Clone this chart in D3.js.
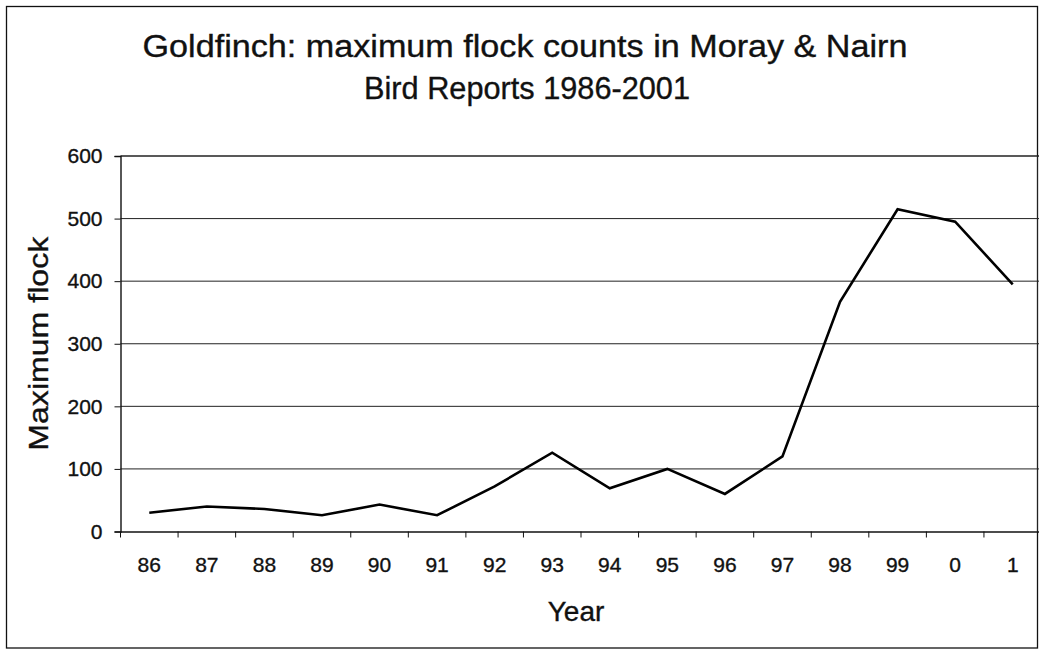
<!DOCTYPE html>
<html>
<head>
<meta charset="utf-8">
<script src="https://cdn.jsdelivr.net/npm/d3@7.9.0/dist/d3.min.js"></script>
<style>
  body { margin: 0; background: #fff; }
  svg { display: block; font-family: Arial, "Liberation Sans", sans-serif; }
  .lbl { fill: #111; stroke: #111; stroke-width: 0.35px; }
</style>
</head>
<body>
<svg id="chart" width="1039" height="650"></svg>
<script>
// Year labels as printed on the axis
const years = ["86", "87", "88", "89", "90", "91", "92", "93", "94", "95", "96", "97", "98", "99", "0", "1"];
// Maximum flock counts
const flock = [30, 40, 36, 26, 43, 26, 72, 126, 69, 100, 60, 120, 367, 515, 495, 395];
const yTicks = [0, 100, 200, 300, 400, 500, 600];

const svg = d3.select('#chart');
const plotLeft = 120.5, plotRight = 1041.5, plotTop = 156, plotBottom = 531.5;

// outer chart frame
svg.append('rect')
    .attr('x', 6.5).attr('y', 6.5)
    .attr('width', 1031).attr('height', 641.5)
    .attr('fill', 'none').attr('stroke', '#111').attr('stroke-width', 1.3);

let x = d3.scaleBand().domain(years).range([plotLeft, plotRight]);
let y = d3.scaleLinear().domain([0, 600]).range([plotBottom, plotTop]);

// gridlines
svg.append('g')
    .selectAll('line')
    .data(yTicks.filter(d => d > 0))
    .enter()
    .append('line')
    .attr('x1', plotLeft).attr('x2', plotRight)
    .attr('y1', d => y(d)).attr('y2', d => y(d))
    .attr('stroke', '#222')
    .attr('stroke-width', d => d === 600 ? 1.4 : 1);

// y axis
let yAxis = svg.append('g')
    .attr('transform', `translate(${plotLeft},0)`)
    .call(d3.axisLeft(y).tickValues(yTicks).tickSize(6).tickPadding(12));
yAxis.select('.domain').attr('stroke', '#111').attr('stroke-width', 1.4);
yAxis.selectAll('.tick line').attr('stroke', '#111');
yAxis.selectAll('text').attr('class', 'lbl').attr('font-size', 21)
    .attr('font-family', 'Arial, "Liberation Sans", sans-serif');

// x axis: ticks between categories, like Excel
let xAxis = svg.append('g')
    .attr('transform', `translate(0,${plotBottom})`)
    .call(d3.axisBottom(x).tickSize(0).tickPadding(26));
xAxis.select('.domain').attr('stroke', '#111').attr('stroke-width', 1.6);
xAxis.selectAll('text').attr('class', 'lbl').attr('font-size', 21)
    .attr('font-family', 'Arial, "Liberation Sans", sans-serif');
xAxis.selectAll('.sep')
    .data(years)
    .enter()
    .append('line')
    .attr('class', 'sep')
    .attr('x1', d => x(d)).attr('x2', d => x(d))
    .attr('y1', 0).attr('y2', 6)
    .attr('stroke', '#111');

// right plot edge
svg.append('line')
    .attr('x1', 1037.5).attr('x2', 1037.5)
    .attr('y1', plotTop).attr('y2', plotBottom)
    .attr('stroke', '#222').attr('stroke-width', 1);

// data line
let line = d3.line()
    .x((d, i) => x(years[i]) + x.bandwidth() / 2)
    .y(d => y(d));

svg.append('path')
    .datum(flock)
    .attr('d', line)
    .attr('fill', 'none')
    .attr('stroke', '#000')
    .attr('stroke-width', 2.6)
    .attr('stroke-linejoin', 'miter');

// titles
svg.append('text')
    .attr('class', 'lbl')
    .attr('x', 525).attr('y', 57)
    .attr('text-anchor', 'middle')
    .attr('font-size', 31)
    .attr('textLength', 765).attr('lengthAdjust', 'spacingAndGlyphs')
    .text('Goldfinch: maximum flock counts in Moray & Nairn');
svg.append('text')
    .attr('class', 'lbl')
    .attr('x', 527).attr('y', 99)
    .attr('text-anchor', 'middle')
    .attr('font-size', 31)
    .attr('textLength', 326).attr('lengthAdjust', 'spacingAndGlyphs')
    .text('Bird Reports 1986-2001');

svg.append('text')
    .attr('class', 'lbl')
    .attr('x', (plotLeft + plotRight) / 2 - 5).attr('y', 621)
    .attr('text-anchor', 'middle')
    .attr('font-size', 28)
    .text('Year');

svg.append('text')
    .attr('class', 'lbl')
    .attr('transform', `translate(48,${(plotTop + plotBottom) / 2}) rotate(-90)`)
    .attr('text-anchor', 'middle')
    .attr('font-size', 28)
    .attr('textLength', 214).attr('lengthAdjust', 'spacingAndGlyphs')
    .text('Maximum flock');
</script>
</body>
</html>
